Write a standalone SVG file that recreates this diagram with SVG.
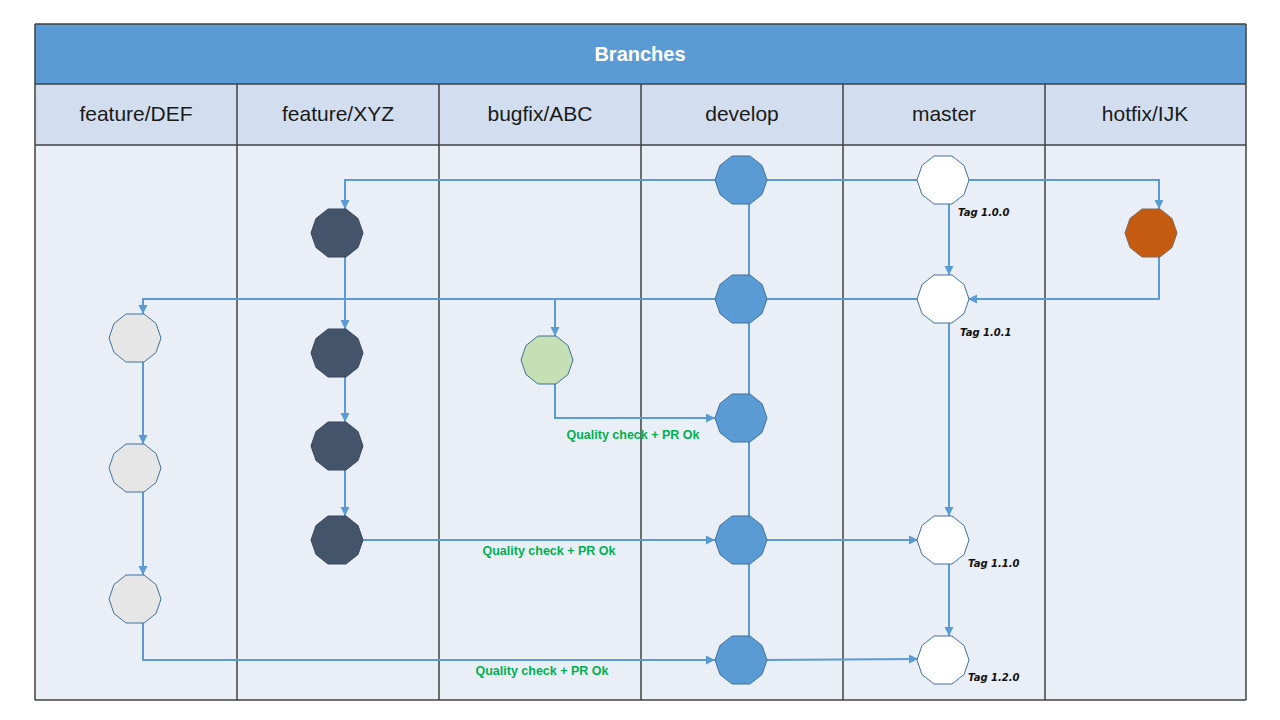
<svg xmlns="http://www.w3.org/2000/svg" xmlns:xlink="http://www.w3.org/1999/xlink" width="1280" height="720" viewBox="0 0 1280 720">
<style>
.col{font-family:"Liberation Sans",Arial,sans-serif;font-size:21px;fill:#1a1a1a;text-anchor:middle}
.title{font-family:"Liberation Sans",Arial,sans-serif;font-size:20px;font-weight:bold;fill:#ffffff;text-anchor:middle}
.tag{font-family:"DejaVu Sans",sans-serif;font-size:10px;font-weight:bold;font-style:italic;fill:#111}
.qc{font-family:"Liberation Sans",Arial,sans-serif;font-size:12.5px;font-weight:bold;fill:#00B050;text-anchor:middle}
.grid{stroke:#404040;stroke-width:1.5;fill:none}
.conn{stroke:#5B9BD5;stroke-width:2;fill:none}
.arr{marker-end:url(#ah)}
.dev{fill:#5B9BD5;stroke:#41719C;stroke-width:1}
.mas{fill:#ffffff;stroke:#41719C;stroke-width:1}
.xyz{fill:#44546A;stroke:#3A475A;stroke-width:1}
.def{fill:#E7E6E6;stroke:#41719C;stroke-width:1}
.bug{fill:#C5E0B4;stroke:#41719C;stroke-width:1}
.hot{fill:#C55A11;stroke:#7F6A5A;stroke-width:1}
</style>
<defs>
<polygon id="dec" points="-9,-24 9,-24 21,-14.5 26,0 21,14.5 9,24 -9,24 -21,14.5 -26,0 -21,-14.5"/>
<marker id="ah" markerUnits="userSpaceOnUse" markerWidth="10" markerHeight="10" refX="9" refY="5" orient="auto">
<path d="M0,0.5 L9,5 L0,9.5 Z" fill="#5B9BD5"/>
</marker>
</defs>

<g id="table">
<rect x="35" y="24" width="1211" height="676" fill="#E9EEF7"/>
<rect x="35" y="24" width="1211" height="60" fill="#5B9BD5"/>
<rect x="35" y="84" width="1211" height="61" fill="#D2DEEF"/>
<line class="grid" x1="35" y1="24" x2="1246" y2="24" stroke="#111"/>
<line class="grid" x1="35" y1="84" x2="1246" y2="84"/>
<line class="grid" x1="35" y1="145" x2="1246" y2="145"/>
<line class="grid" x1="35" y1="700" x2="1246" y2="700"/>
<line class="grid" x1="35" y1="24" x2="35" y2="700"/>
<line class="grid" x1="1246" y1="24" x2="1246" y2="700"/>
<line class="grid" x1="237" y1="84" x2="237" y2="700"/>
<line class="grid" x1="439" y1="84" x2="439" y2="700"/>
<line class="grid" x1="641" y1="84" x2="641" y2="700"/>
<line class="grid" x1="843" y1="84" x2="843" y2="700"/>
<line class="grid" x1="1045" y1="84" x2="1045" y2="700"/>
<text class="title" x="640" y="61">Branches</text>
<text class="col" x="136" y="121">feature/DEF</text>
<text class="col" x="338" y="121">feature/XYZ</text>
<text class="col" x="540" y="121">bugfix/ABC</text>
<text class="col" x="742" y="121">develop</text>
<text class="col" x="944" y="121">master</text>
<text class="col" x="1145" y="121">hotfix/IJK</text>
</g>

<g id="connectors">
<polyline class="conn arr" points="715,180 345,180 345,209"/>
<line class="conn" x1="767" y1="180" x2="918" y2="180"/>
<polyline class="conn arr" points="968,180 1159,180 1159,209"/>
<line class="conn arr" x1="949" y1="204" x2="949" y2="275"/>
<polyline class="conn arr" points="1159,257 1159,299 968,299"/>
<line class="conn" x1="918" y1="299" x2="767" y2="299"/>
<polyline class="conn arr" points="715,299 143,299 143,314"/>
<line class="conn arr" x1="555" y1="299" x2="555" y2="336"/>
<line class="conn arr" x1="345" y1="257" x2="345" y2="329"/>
<line class="conn arr" x1="345" y1="377" x2="345" y2="422"/>
<line class="conn arr" x1="345" y1="470" x2="345" y2="516"/>
<line class="conn arr" x1="143" y1="362" x2="143" y2="444"/>
<line class="conn arr" x1="143" y1="492" x2="143" y2="575"/>
<polyline class="conn arr" points="143,623 143,660 715,660"/>
<polyline class="conn arr" points="555,384 555,418 715,418"/>
<line class="conn arr" x1="363" y1="540" x2="715" y2="540"/>
<line class="conn" x1="749" y1="204" x2="749" y2="636"/>
<line class="conn arr" x1="767" y1="540" x2="918" y2="540"/>
<line class="conn arr" x1="767" y1="660" x2="918" y2="659"/>
<line class="conn arr" x1="949" y1="323" x2="949" y2="516"/>
<line class="conn arr" x1="949" y1="564" x2="949" y2="636"/>
</g>

<g id="develop-nodes">
<use xlink:href="#dec" class="dev" x="741" y="180"/>
<use xlink:href="#dec" class="dev" x="741" y="299"/>
<use xlink:href="#dec" class="dev" x="741" y="418"/>
<use xlink:href="#dec" class="dev" x="741" y="540"/>
<use xlink:href="#dec" class="dev" x="741" y="660"/>
</g>
<g id="master-nodes">
<use xlink:href="#dec" class="mas" x="943" y="180"/>
<use xlink:href="#dec" class="mas" x="943" y="299"/>
<use xlink:href="#dec" class="mas" x="943" y="540"/>
<use xlink:href="#dec" class="mas" x="943" y="660"/>
</g>
<g id="hotfix-node">
<use xlink:href="#dec" class="hot" x="1151" y="233"/>
</g>
<g id="xyz-nodes">
<use xlink:href="#dec" class="xyz" x="337" y="233"/>
<use xlink:href="#dec" class="xyz" x="337" y="353"/>
<use xlink:href="#dec" class="xyz" x="337" y="446"/>
<use xlink:href="#dec" class="xyz" x="337" y="540"/>
</g>
<g id="bugfix-node">
<use xlink:href="#dec" class="bug" x="547" y="360"/>
</g>
<g id="def-nodes">
<use xlink:href="#dec" class="def" x="135" y="338"/>
<use xlink:href="#dec" class="def" x="135" y="468"/>
<use xlink:href="#dec" class="def" x="135" y="599"/>
</g>

<g id="labels">
<text class="tag" x="958" y="216">Tag 1.0.0</text>
<text class="tag" x="960" y="336">Tag 1.0.1</text>
<text class="tag" x="968" y="567">Tag 1.1.0</text>
<text class="tag" x="968" y="681">Tag 1.2.0</text>
<text class="qc" x="633" y="439">Quality check + PR Ok</text>
<text class="qc" x="549" y="555">Quality check + PR Ok</text>
<text class="qc" x="542" y="675">Quality check + PR Ok</text>
</g>
</svg>
